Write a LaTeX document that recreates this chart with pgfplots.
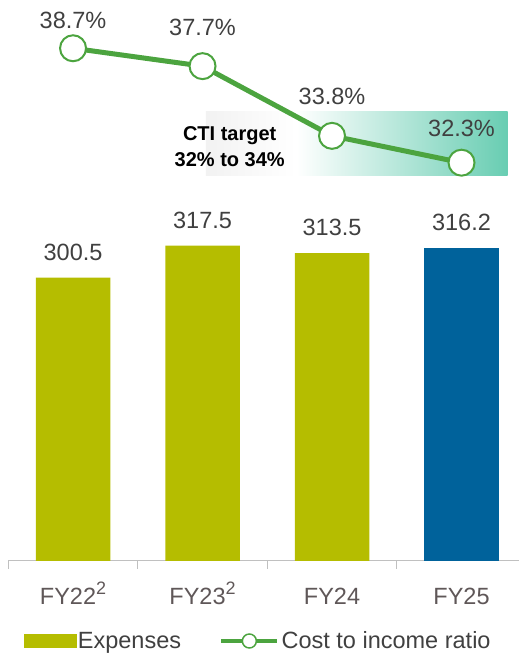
\documentclass[border=0pt]{standalone}
\usepackage{pgfplots}
\pgfplotsset{compat=1.18}
\usepackage{fontspec}
\setmainfont{Liberation Sans}
\definecolor{barolive}{HTML}{B5BD00}
\definecolor{barnavy}{HTML}{00629B}
\definecolor{lgreen}{HTML}{4CA43F}
\definecolor{mint}{HTML}{68CDB2}
\definecolor{bandgray}{HTML}{F2F2F2}
\definecolor{txt}{HTML}{404040}
\definecolor{tickc}{HTML}{5F5758}
\definecolor{axisgray}{HTML}{C0C0C0}
\pgfdeclarehorizontalshading{band}{100bp}{color(0bp)=(bandgray); color(25bp)=(bandgray); color(40bp)=(white); color(75bp)=(mint); color(100bp)=(mint)}
\newcommand\lab{\fontsize{23.5}{28}\selectfont}
\newcommand\fnsup[1]{\raisebox{10pt}{\fontsize{18}{18}\selectfont #1}}
\begin{document}
\begin{tikzpicture}
\path[use as bounding box] (0,0) rectangle (519pt,655pt);
% bars
\begin{axis}[
  at={(8.3pt,94pt)}, anchor=south west,
  scale only axis, width=510.7pt, height=561pt,
  xmin=-0.5, xmax=3.444, ymin=150, ymax=448,
  axis x line=bottom, axis y line=none,
  x axis line style={-, axisgray, line width=1pt},
  xtick={0,1,2,3},
  xticklabels={FY22\fnsup{2},FY23\fnsup{2},FY24,FY25},
  major tick length=0pt,
  minor xtick={-0.5,0.5,1.5,2.5},
  minor tick length=8pt,
  tick align=outside,
  minor tick style={axisgray, line width=1pt},
  xticklabel style={font=\lab, text=tickc, anchor=base, yshift=-44pt},
  clip=false,
  point meta=explicit symbolic,
  nodes near coords,
  every node near coord/.append style={font=\lab, text=txt, anchor=center, yshift=25.5pt},
]
\addplot[ybar, bar shift=0pt, bar width=74.5pt, fill=barolive, draw=none]
  coordinates {(0,300.5) [300.5] (1,317.5) [317.5] (2,313.5) [313.5]};
\addplot[ybar, bar shift=0pt, bar width=74.5pt, fill=barnavy, draw=none]
  coordinates {(3,316.2) [316.2]};
\end{axis}
% line
\begin{axis}[
  at={(8.3pt,94pt)}, anchor=south west,
  scale only axis, width=510.7pt, height=561pt,
  xmin=-0.5, xmax=3.444, ymin=10.02, ymax=41.40,
  hide axis, clip=false,
  legend columns=2,
  legend style={draw=none, fill=none, font=\lab, text=txt,
    at={(axis description cs:0,0)}, anchor=west, xshift=12pt, yshift=-80pt,
    /tikz/every even column/.append style={column sep=36pt}},
]
\fill[shading=band] (axis cs:1.025,31.61) rectangle (axis cs:3.357,35.14);
\node[align=center, font=\bfseries\fontsize{20}{26}\selectfont, text=black] at (axis cs:1.21,33.18) {CTI target\\32\% to 34\%};
\addlegendimage{legend image code/.code={\fill[barolive] (0pt,-6.5pt) rectangle (52pt,6.5pt);}}
\addlegendentry{Expenses}
\addplot[lgreen, line width=5pt, mark=*, mark size=13pt,
  mark options={fill=white, draw=lgreen, line width=2pt},
  point meta=explicit symbolic,
  visualization depends on={\thisrow{dy}\as\dy},
  nodes near coords,
  every node near coord/.append style={font=\lab, text=txt, anchor=center, yshift=\dy pt},
  legend image code/.code={\draw[lgreen, line width=4.5pt] (0pt,0pt) -- (56pt,0pt); \draw[lgreen, line width=1.5pt, fill=white] (28pt,0pt) circle (7pt);}
] table[meta=lab] {
x y lab dy
0 38.7 38.7\% 28
1 37.7 37.7\% 39
2 33.8 33.8\% 39
3 32.3 32.3\% 34.5
};
\addlegendentry{Cost to income ratio}
\end{axis}
\end{tikzpicture}
\end{document}
